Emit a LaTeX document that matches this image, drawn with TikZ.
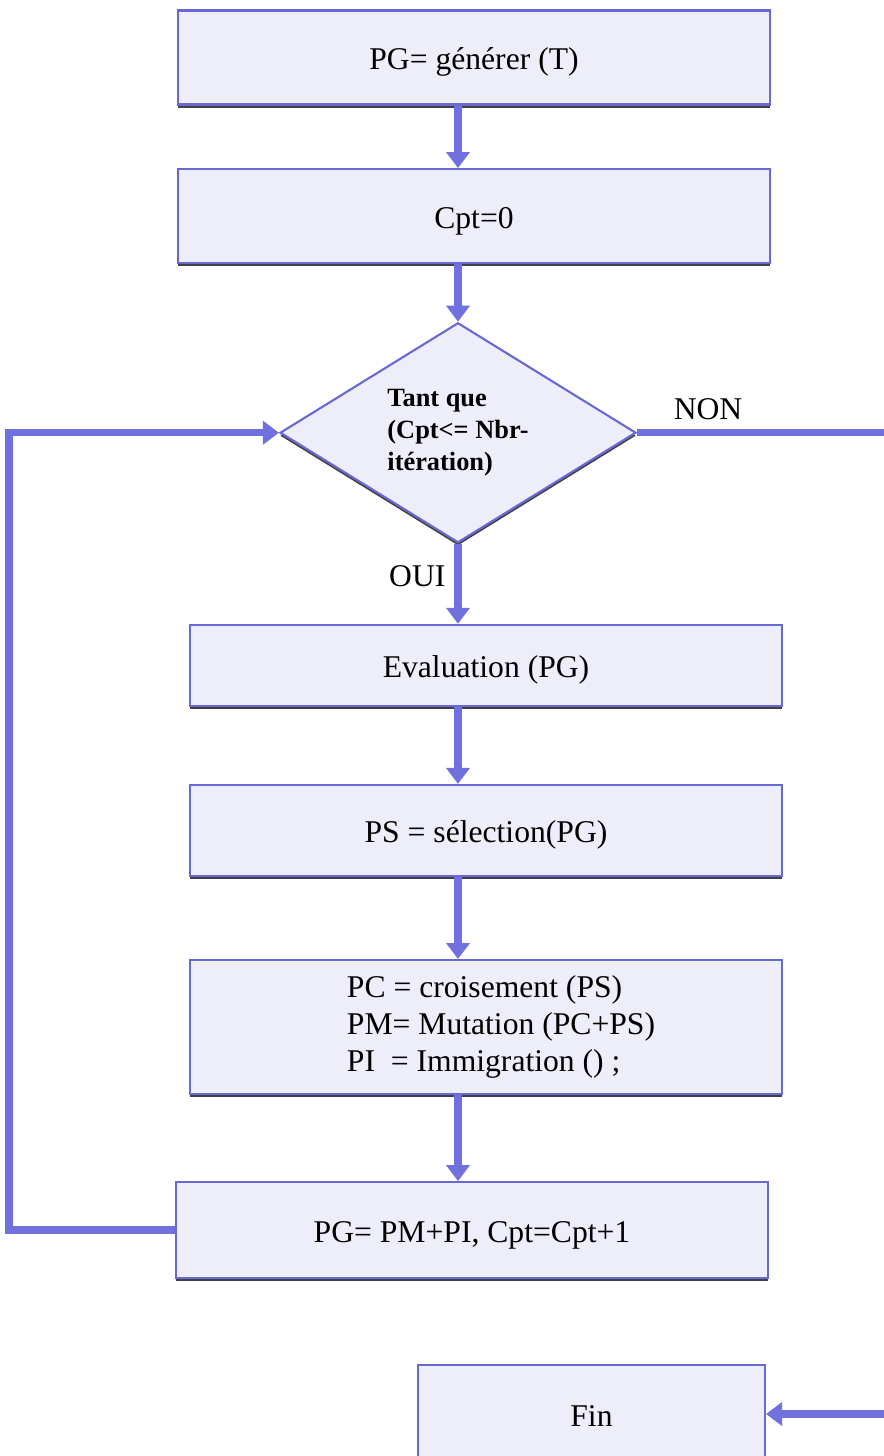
\documentclass[tikz,border=0pt]{standalone}
\usepackage{fontspec}
\setmainfont{Liberation Serif}
\usepackage{tikz}
\usetikzlibrary{shapes.geometric,arrows.meta,positioning,shadows}
\usepackage{xcolor}
\definecolor{algoedge}{RGB}{104,104,214}
\definecolor{algofill}{RGB}{238,238,250}
\definecolor{algoarrow}{RGB}{112,112,222}
\tikzset{
algobox/.style={rectangle,draw=algoedge,line width=1.2pt,fill=algofill,
  minimum width=11.84cm,minimum height=1.88cm,align=center,
  font=\fontsize{18}{21}\selectfont,
  drop shadow={shadow xshift=0cm,shadow yshift=-0.06cm,fill=black!75,opacity=1}},
algoline/.style={text height=0.62cm,text depth=0.14cm},
algotest/.style={diamond,draw=algoedge,line width=1.2pt,fill=algofill,
  aspect=1.62,inner sep=0pt,minimum width=7.12cm,minimum height=4.4cm,
  align=left,font=\fontsize{15}{18}\selectfont\bfseries,
  drop shadow={shadow xshift=0cm,shadow yshift=-0.06cm,fill=black!75,opacity=1}},
algoarr/.style={draw=algoarrow,line width=0.15cm,
  -{Triangle[width=0.46cm,length=0.32cm]}},
algolabel/.style={font=\fontsize{18}{21}\selectfont}
}
\begin{document}
\begin{tikzpicture}
\useasboundingbox (0,0) rectangle (17.66,-29.12);
\node[algobox,algoline] (gen) at (9.48,-1.15) {PG= générer (T)};
\node[algobox,algoline,below=1.25cm of gen] (init) {Cpt=0};
\node[algotest,below=1.15cm of init,xshift=-0.32cm] (test) {Tant que\\(Cpt<= Nbr-\\itération)};
\node[algobox,algoline,below=1.6cm of test,xshift=0.56cm,minimum height=1.62cm] (eval) {Evaluation (PG)};
\node[algobox,algoline,below=1.54cm of eval,minimum height=1.82cm] (sel) {PS = sélection(PG)};
\node[algobox,below=1.64cm of sel,minimum height=2.68cm,align=left] (cross) {\hspace*{0.6cm}PC = croisement (PS)\\\hspace*{0.6cm}PM= Mutation (PC+PS)\\\hspace*{0.6cm}PI\ \ = Immigration () ;};
\node[algobox,algoline,below=1.72cm of cross,xshift=-0.28cm,minimum height=1.92cm] (cycle) {PG= PM+PI, Cpt=Cpt+1};
\node[algobox,algoline,minimum width=6.94cm,minimum height=1.96cm] (fin) at (11.83,-28.28) {Fin};
\coordinate (rim) at (18,0);
\draw[algoarr] (gen.south -| test) -- (init.north -| test);
\draw[algoarr] (init.south -| test) -- (test.north);
\draw[algoarr] (test.south) -- node[algolabel,left=0.06cm,pos=0.4] {OUI} (eval.north -| test);
\draw[algoarr] (eval.south -| test) -- (sel.north -| test);
\draw[algoarr] (sel.south -| test) -- (cross.north -| test);
\draw[algoarr] (cross.south -| test) -- (cycle.north -| test);
\draw[algoarr] (cycle.west) -- ++(-3.32cm,0) |- (test.west);
\draw[algoarr] (test.east) -- node[algolabel,above=2pt,pos=0.27] {NON} (test.east -| rim) |- (fin.east);
\end{tikzpicture}
\end{document}
